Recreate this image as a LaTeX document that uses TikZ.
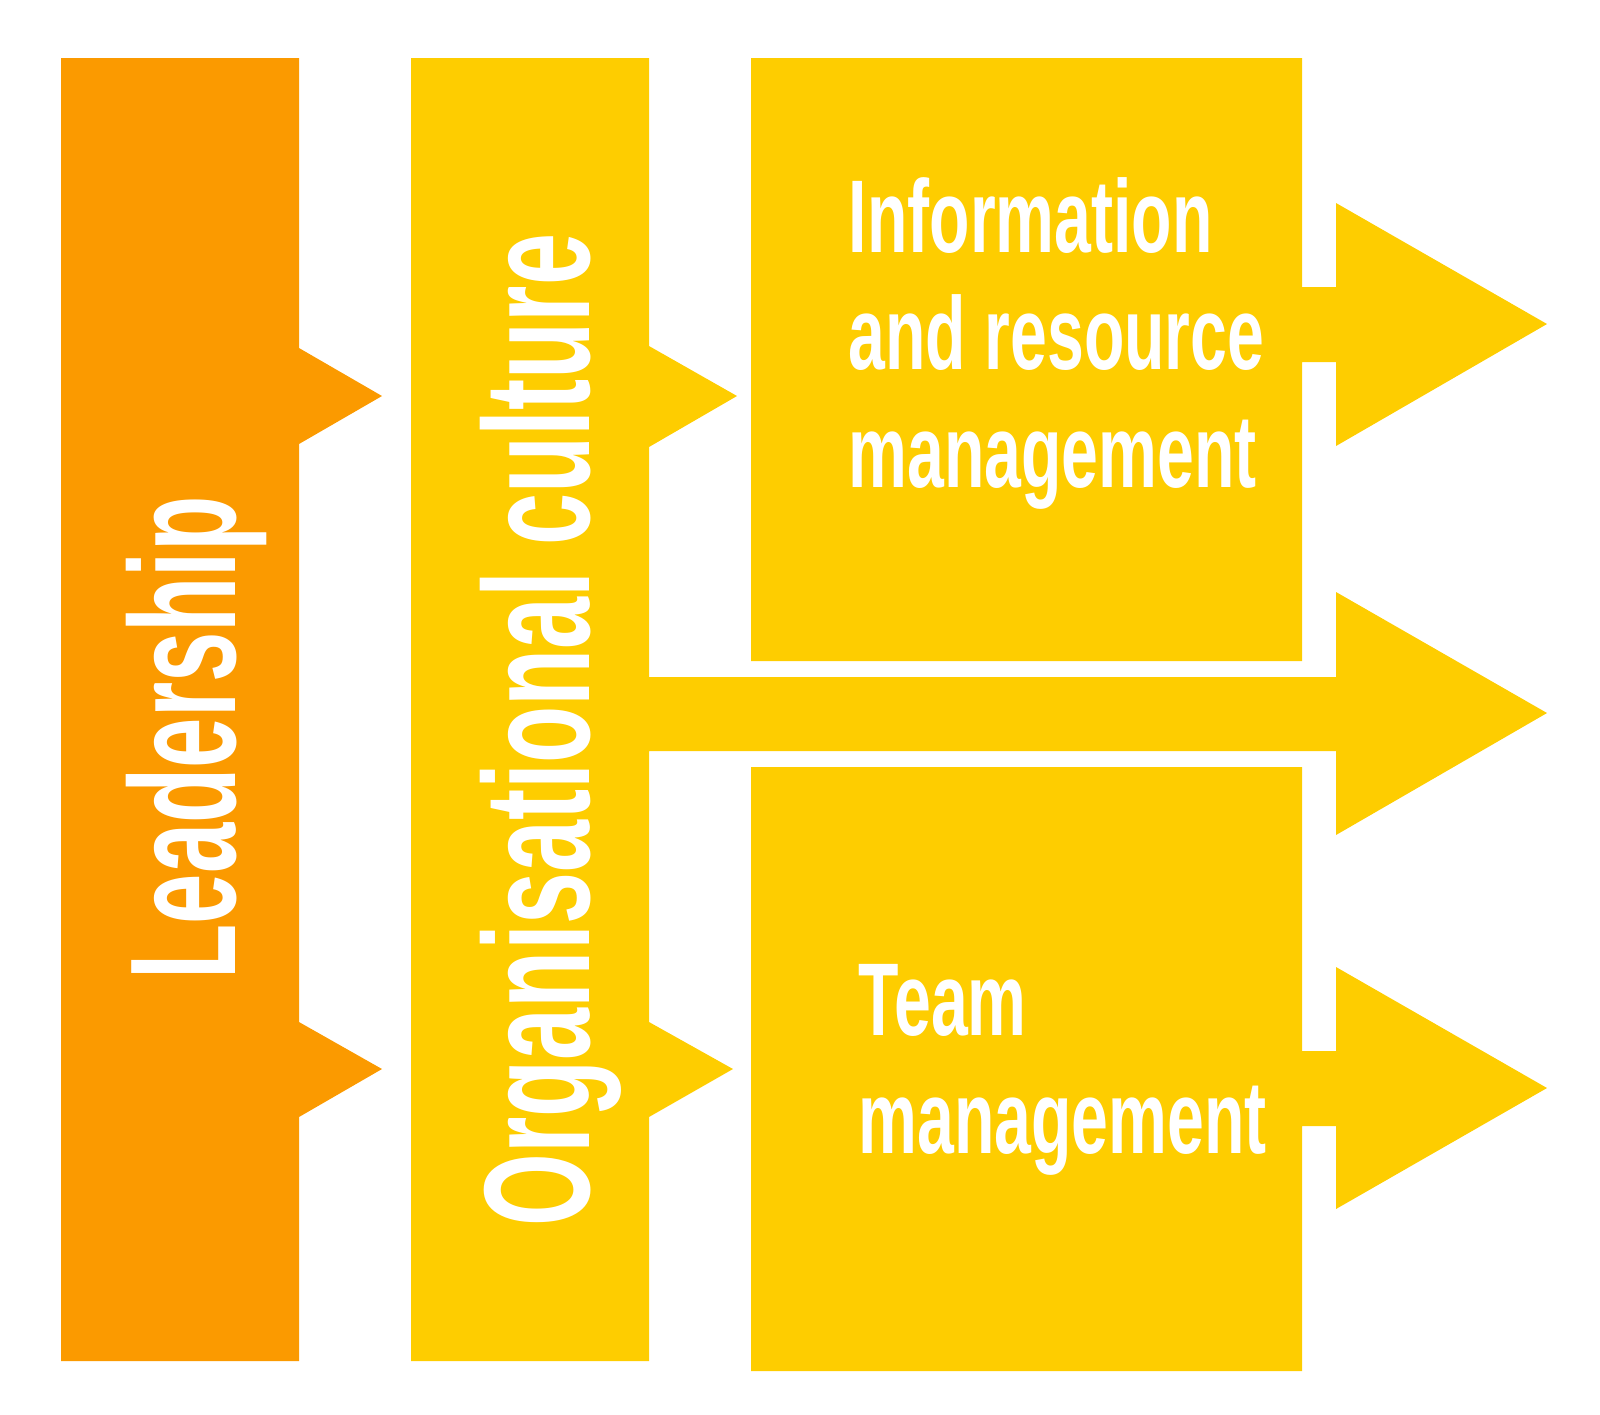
\documentclass[tikz,border=0pt]{standalone}
\usepackage{fontspec}
\usepackage{tikz}
\usetikzlibrary{positioning}
\newfontfamily\barfont{Liberation Sans}[FakeStretch=0.6]
\newfontfamily\culturefont{Liberation Sans}[FakeStretch=0.62]
\newfontfamily\boxfont{Liberation Sans}[FakeStretch=0.64]
\definecolor{leadorange}{HTML}{FB9A00}
\definecolor{cultyellow}{HTML}{FECD00}
\tikzset{
  orangeshape/.style={fill=leadorange,draw=none},
  yellowshape/.style={fill=cultyellow,draw=none},
  barlabel/.style={rotate=90,anchor=base,inner sep=0pt,text=white,
    font=\barfont\bfseries\fontsize{42.9}{50}\selectfont},
  boxlabel/.style={anchor=base west,align=left,inner sep=0pt,text=white,
    font=\boxfont\bfseries\fontsize{29.4}{33.4}\selectfont},
}

\begin{document}
\begin{tikzpicture}[x=0.01cm,y=-0.01cm]
  \useasboundingbox (0,0) rectangle (1600,1414);
  \fill[orangeshape] (61,58) -- (299,58) -- (299,348) -- (382,396) -- (299,444)
    -- (299,1022) -- (382,1069) -- (299,1117) -- (299,1361) -- (61,1361) -- cycle;
  \fill[yellowshape] (411,58) -- (649,58) -- (649,346) -- (737,396) -- (649,447)
    -- (649,677) -- (1336,677) -- (1336,592) -- (1547,713) -- (1336,835) -- (1336,751)
    -- (649,751) -- (649,1022) -- (733,1069) -- (649,1117) -- (649,1361) -- (411,1361) -- cycle;
  \fill[yellowshape] (751,58) -- (1302,58) -- (1302,287) -- (1336,287) -- (1336,203)
    -- (1547,324) -- (1336,446) -- (1336,362) -- (1302,362) -- (1302,661) -- (751,661) -- cycle;
  \fill[yellowshape] (751,767) -- (1302,767) -- (1302,1051) -- (1336,1051) -- (1336,967)
    -- (1547,1088) -- (1336,1209) -- (1336,1126) -- (1302,1126) -- (1302,1371) -- (751,1371) -- cycle;
  \node[barlabel] (lead)    at (235,738)   {Leadership};
  \node[barlabel,font=\culturefont\bfseries\fontsize{42.9}{50}\selectfont]
    (culture) at (589,730) {Organisational culture};
  \node[boxlabel] (info)    at (848,487)   {Information\\and resource\\management};
  \node[boxlabel] (team)    at (858,1153)  {Team\\management};
\end{tikzpicture}
\end{document}
